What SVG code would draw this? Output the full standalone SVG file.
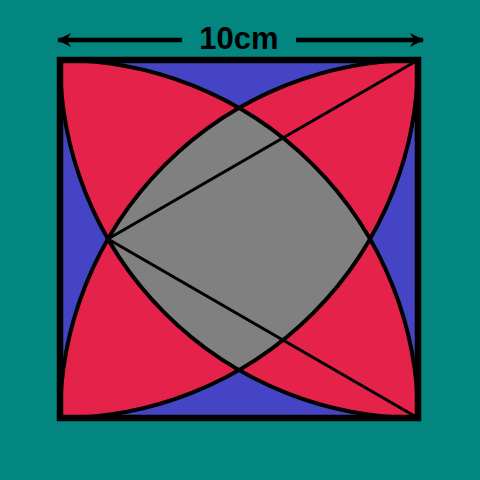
<svg xmlns="http://www.w3.org/2000/svg" width="480" height="480" viewBox="0 0 480 480">
<defs>
<style>
.red{fill:#E5234A}
.arc{fill:none;stroke:#000;stroke-width:4}
.ln{fill:none;stroke:#000;stroke-width:3}
</style>
<marker id="ah" markerWidth="14" markerHeight="14" refX="13" refY="7" orient="auto-start-reverse" markerUnits="userSpaceOnUse">
<path d="M0,0 L14,7 L0,14 L4,7 Z" fill="#000"/>
</marker>
<path id="petal" d="M60,60 A358,358 0 0,1 239,107.96 A358,358 0 0,0 107.96,239 A358,358 0 0,1 60,60 Z"/>
</defs>
<rect width="480" height="480" fill="#038580"/>
<g id="square">
<rect x="60" y="60" width="358" height="358" fill="#4444C4"/>
</g>
<g id="petals" class="red">
<use href="#petal"/>
<use href="#petal" transform="rotate(90 239 239)"/>
<use href="#petal" transform="rotate(180 239 239)"/>
<use href="#petal" transform="rotate(270 239 239)"/>
</g>
<g id="center">
<path d="M239,107.96 A358,358 0 0,1 370.04,239 A358,358 0 0,1 239,370.04 A358,358 0 0,1 107.96,239 A358,358 0 0,1 239,107.96 Z" fill="#808080"/>
</g>
<g id="connectors">
<path class="arc" d="M60,60 A358,358 0 0,1 418,418"/>
<path class="arc" d="M418,60 A358,358 0 0,0 60,418"/>
<path class="arc" d="M418,60 A358,358 0 0,1 60,418"/>
<path class="arc" d="M60,60 A358,358 0 0,0 418,418"/>
<path class="ln" d="M418,60 L107.96,239 L418,418"/>
<rect x="60" y="60" width="358" height="358" fill="none" stroke="#000" stroke-width="6.5"/>
<line x1="182" y1="40" x2="58" y2="40" stroke="#000" stroke-width="4.5" marker-end="url(#ah)"/>
<line x1="296" y1="40" x2="423" y2="40" stroke="#000" stroke-width="4.5" marker-end="url(#ah)"/>
</g>
<g id="label">
<text x="239" y="49" text-anchor="middle" font-family="Liberation Sans, Arial, sans-serif" font-weight="bold" font-size="31" fill="#000">10cm</text>
</g>
</svg>
